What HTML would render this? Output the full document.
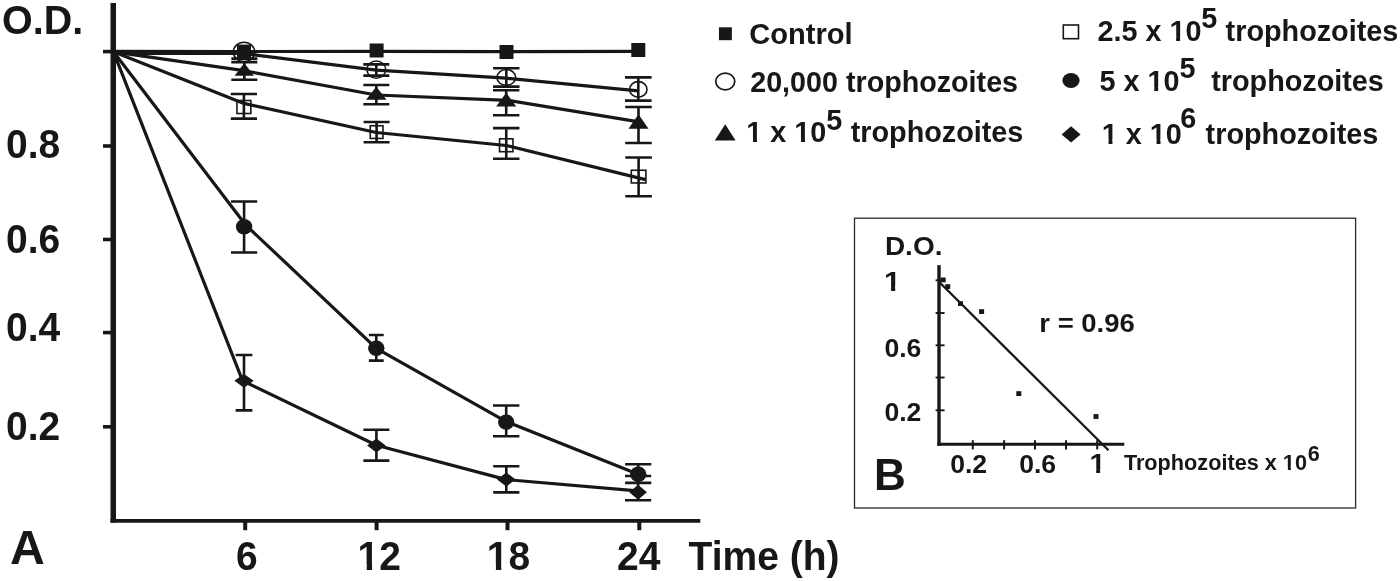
<!DOCTYPE html>
<html lang="en"><head><meta charset="utf-8"><title>Figure</title>
<style>html,body{margin:0;padding:0;background:#fff}svg{display:block}text{font-family:"Liberation Sans", Arial, sans-serif;font-weight:700;fill:#171717}</style></head><body>
<svg width="1400" height="581" viewBox="0 0 1400 581">
<rect width="1400" height="581" fill="#fff"/>
<g stroke="#171717" fill="none" stroke-linecap="butt">
<line x1="113.25" y1="3" x2="113.25" y2="522.6" stroke-width="5.5"/>
<line x1="110.5" y1="520.9" x2="700.3" y2="520.9" stroke-width="3.6"/>
<line x1="103" y1="51.6" x2="111" y2="51.6" stroke-width="3.6"/>
<line x1="103" y1="146" x2="111" y2="146" stroke-width="3.6"/>
<line x1="103" y1="239.5" x2="111" y2="239.5" stroke-width="3.6"/>
<line x1="103" y1="332.6" x2="111" y2="332.6" stroke-width="3.6"/>
<line x1="103" y1="426.8" x2="111" y2="426.8" stroke-width="3.6"/>
<line x1="245.2" y1="520" x2="245.2" y2="530.2" stroke-width="4"/>
<line x1="376.6" y1="520" x2="376.6" y2="530.2" stroke-width="4"/>
<line x1="507.5" y1="520" x2="507.5" y2="530.2" stroke-width="4"/>
<line x1="639.3" y1="520" x2="639.3" y2="530.2" stroke-width="4"/>
</g>
<g stroke="#171717" fill="none" stroke-width="3.2" stroke-linejoin="round">
<polyline points="113.5,51.4 244,51.5 376.5,51.4 506.3,51.6 638.4,51.3"/>
<polyline points="113.5,53.3 244,53.5 376.25,70.2 506.25,78.2 638.5,90.8"/>
<polyline points="113.5,51.8 244,70.7 376.25,95 508,100.4 637.5,121.6"/>
<polyline points="113.5,51.8 244,103.4 376.25,132.5 506.25,145.5 645.5,179.6"/>
<polyline points="113.5,51.8 245.5,224.8 376.3,348.3 506.2,421.6 638.2,474.2"/>
<polyline points="113.5,51.8 242.6,380.8 376.4,445.3 506.3,479.6 637.5,490.8"/>
</g>
<g stroke="#171717" fill="none" stroke-width="2.6">
<path d="M244.4,52V58.6M231.4,52H257.4M231.4,58.6H257.4"/>
<path d="M376.3,64.4V75.6M363.3,64.4H389.3M363.3,75.6H389.3"/>
<path d="M506.3,68.2V86.6M493.1,68.2H519.5M493.1,86.6H519.5"/>
<path d="M638.3,77.4V100.6M625.0,77.4H651.5999999999999M625.0,100.6H651.5999999999999"/>
<path d="M244.3,62.1V79.7M231.3,62.1H257.3M231.3,79.7H257.3"/>
<path d="M376.3,85V104.3M363.3,85H389.3M363.3,104.3H389.3"/>
<path d="M506.2,90.2V115.3M493.0,90.2H519.4M493.0,115.3H519.4"/>
<path d="M638.5,107V143M625.2,107H651.8M625.2,143H651.8"/>
<path d="M243.9,94V118.6M230.8,94H257.0M230.8,118.6H257.0"/>
<path d="M376.6,122V142.3M363.6,122H389.6M363.6,142.3H389.6"/>
<path d="M506.25,128.1V158.75M493.05,128.1H519.45M493.05,158.75H519.45"/>
<path d="M638.6,157.5V196.25M625.3000000000001,157.5H651.9M625.3000000000001,196.25H651.9"/>
<path d="M244.1,201.5V252.5M231.0,201.5H257.2M231.0,252.5H257.2"/>
<path d="M376.3,335V360.6M368.90000000000003,335H383.7M368.90000000000003,360.6H383.7"/>
<path d="M506.2,405.5V436.2M493.0,405.5H519.4M493.0,436.2H519.4"/>
<path d="M638.2,464.3V482.9M625.1,464.3H651.3000000000001M625.1,482.9H651.3000000000001"/>
<path d="M244,355V410.4M235.6,355H252.4M235.6,410.4H252.4"/>
<path d="M376.4,429.7V460.6M363.4,429.7H389.4M363.4,460.6H389.4"/>
<path d="M506.3,466.3V492.4M493.2,466.3H519.4M493.2,492.4H519.4"/>
<path d="M638.1,476V500.2M625.0,476H651.2M625.0,500.2H651.2"/>
</g>
<rect x="237.0" y="44.6" width="14" height="14" fill="#171717"/>
<rect x="369.6" y="43.5" width="14" height="14" fill="#171717"/>
<rect x="499.5" y="45.0" width="14" height="14" fill="#171717"/>
<rect x="631.3" y="43.0" width="14" height="14" fill="#171717"/>
<ellipse cx="244" cy="52" rx="10.7" ry="9.8" fill="none" stroke="#171717" stroke-width="1.6"/>
<ellipse cx="376.3" cy="69.6" rx="9.35" ry="8.65" fill="none" stroke="#171717" stroke-width="1.6"/>
<ellipse cx="506.3" cy="77.4" rx="9.35" ry="7.9" fill="none" stroke="#171717" stroke-width="1.6"/>
<ellipse cx="638.3" cy="89.4" rx="8.7" ry="7.8" fill="none" stroke="#171717" stroke-width="1.6"/>
<polygon points="244.3,63.114999999999995 254.0,75.815 234.60000000000002,75.815" fill="#171717"/>
<polygon points="376.3,86.85 386.55,99.85 366.05,99.85" fill="#171717"/>
<polygon points="506.2,92.81 516.2,106.61000000000001 496.2,106.61000000000001" fill="#171717"/>
<polygon points="638.5,114.17 648.5,128.77 628.5,128.77" fill="#171717"/>
<rect x="236.95000000000002" y="100.5" width="13.9" height="13" fill="none" stroke="#171717" stroke-width="1.6"/>
<rect x="370.25" y="125.75" width="12.7" height="12.7" fill="none" stroke="#171717" stroke-width="1.6"/>
<rect x="499.55" y="138.8" width="13.4" height="12.9" fill="none" stroke="#171717" stroke-width="1.6"/>
<rect x="631.3000000000001" y="170.25" width="14.6" height="12.7" fill="none" stroke="#171717" stroke-width="1.6"/>
<ellipse cx="244.1" cy="226.7" rx="8.2" ry="7.7" fill="#171717"/>
<ellipse cx="376.3" cy="348.3" rx="8.2" ry="7.7" fill="#171717"/>
<ellipse cx="506.2" cy="422.1" rx="8.2" ry="7.7" fill="#171717"/>
<ellipse cx="638.2" cy="474.2" rx="8.2" ry="7.7" fill="#171717"/>
<polygon points="244,373.90000000000003 253.65,380.8 244,387.7 234.35,380.8" fill="#171717"/>
<polygon points="376.4,438.6 385.7,445.5 376.4,452.4 367.09999999999997,445.5" fill="#171717"/>
<polygon points="506.3,472.4 515.6,479.5 506.3,486.6 497.0,479.5" fill="#171717"/>
<polygon points="638.1,484.7 646.9,492.2 638.1,499.7 629.3000000000001,492.2" fill="#171717"/>
<text class="t" transform="translate(2,34.2) scale(1.012,1.045)" font-size="39">O.D.</text>
<text class="t" transform="translate(6,157.8) scale(1,1.045)" font-size="39">0.8</text>
<text class="t" transform="translate(6,253.1) scale(1,1.045)" font-size="39">0.6</text>
<text class="t" transform="translate(6,341.1) scale(1,1.045)" font-size="39">0.4</text>
<text class="t" transform="translate(6,440.4) scale(1,1.045)" font-size="39">0.2</text>
<text class="t" transform="translate(236,570.2) scale(1,1.045)" font-size="39">6</text>
<text class="t" transform="translate(357.6,570.2) scale(1,1.045)" font-size="39">12</text><g fill="#fff" transform="translate(357.6,570.2) scale(1,1.045)"><rect x="1.06" y="-5.32" width="8.05" height="6.66"/><rect x="14.45" y="-5.32" width="7.55" height="6.66"/></g>
<text class="t" transform="translate(486.8,570.2) scale(1,1.045)" font-size="39">18</text><g fill="#fff" transform="translate(486.8,570.2) scale(1,1.045)"><rect x="1.06" y="-5.32" width="8.05" height="6.66"/><rect x="14.45" y="-5.32" width="7.55" height="6.66"/></g>
<text class="t" transform="translate(617,570.2) scale(1,1.045)" font-size="39">24</text>
<text class="t" transform="translate(688.6,570.3) scale(1,1.045)" font-size="39">Time (h)</text>
<text class="t" transform="translate(10.1,564.1) scale(1,1.0)" font-size="48.2">A</text>
<rect x="718.9499999999999" y="27.3" width="12.9" height="12.9" fill="#171717"/>
<text class="t" transform="translate(749.2,44.2) scale(1,1.045)" font-size="29.1">Control</text>
<ellipse cx="725.25" cy="81.5" rx="9.5" ry="8.3" fill="none" stroke="#171717" stroke-width="1.7"/>
<text class="t" transform="translate(750.2,91.5) scale(1,1.045)" font-size="28.7">20,000 trophozoites</text>
<polygon points="725.2,124.2 735.6,140.6 714.8,140.6" fill="#171717"/>
<text class="t" transform="translate(746.3,142) scale(1,1.045)" font-size="28.8">1 x 10</text><g fill="#fff" transform="translate(746.3,142) scale(1,1.045)"><rect x="0.41" y="-4.28" width="6.31" height="5.62"/><rect x="10.67" y="-4.28" width="5.94" height="5.62"/><rect x="48.42" y="-4.28" width="6.31" height="5.62"/><rect x="58.68" y="-4.28" width="5.94" height="5.62"/></g>
<text class="t" transform="translate(826.2,129.5) scale(1,1.045)" font-size="28.8">5</text>
<text class="t" transform="translate(850.7,142) scale(1,1.045)" font-size="28.8">trophozoites</text>
<rect x="1063.3" y="25" width="15.2" height="13.7" fill="none" stroke="#171717" stroke-width="1.6"/>
<text class="t" transform="translate(1097.4,40.8) scale(1,1.045)" font-size="28.8">2.5 x 10</text><g fill="#fff" transform="translate(1097.4,40.8) scale(1,1.045)"><rect x="72.42" y="-4.28" width="6.31" height="5.62"/><rect x="82.68" y="-4.28" width="5.94" height="5.62"/></g>
<text class="t" transform="translate(1201.3,27.5) scale(1,1.045)" font-size="28.8">5</text>
<text class="t" transform="translate(1225.6,40.8) scale(1,1.045)" font-size="28.8">trophozoites</text>
<ellipse cx="1071" cy="80.5" rx="8.6" ry="7.6" fill="#171717"/>
<text class="t" transform="translate(1099.5,91.2) scale(1,1.045)" font-size="28.8">5 x 10</text><g fill="#fff" transform="translate(1099.5,91.2) scale(1,1.045)"><rect x="48.42" y="-4.28" width="6.31" height="5.62"/><rect x="58.68" y="-4.28" width="5.94" height="5.62"/></g>
<text class="t" transform="translate(1179.6,77.6) scale(1,1.045)" font-size="28.8">5</text>
<text class="t" transform="translate(1211.2,91.2) scale(1,1.045)" font-size="28.8">trophozoites</text>
<polygon points="1071.1,126.2 1080.6,134.4 1071.1,142.6 1061.6,134.4" fill="#171717"/>
<text class="t" transform="translate(1101.8,143.7) scale(1,1.045)" font-size="28.8">1 x 10</text><g fill="#fff" transform="translate(1101.8,143.7) scale(1,1.045)"><rect x="0.41" y="-4.28" width="6.31" height="5.62"/><rect x="10.67" y="-4.28" width="5.94" height="5.62"/><rect x="48.42" y="-4.28" width="6.31" height="5.62"/><rect x="58.68" y="-4.28" width="5.94" height="5.62"/></g>
<text class="t" transform="translate(1180.2,128) scale(1,1.045)" font-size="28.8">6</text>
<text class="t" transform="translate(1205.6,143.7) scale(1,1.045)" font-size="28.8">trophozoites</text>
<rect x="854.5" y="218.2" width="501.1" height="289.8" fill="none" stroke="#2a2a2a" stroke-width="1.3"/>
<g stroke="#171717" fill="none">
<line x1="939" y1="265.2" x2="939" y2="445.8" stroke-width="3.4"/>
<line x1="937.3" y1="444.3" x2="1124.3" y2="444.3" stroke-width="3.1"/>
<line x1="935.6" y1="280.3" x2="944.6" y2="280.3" stroke-width="1.9"/>
<line x1="935.6" y1="313" x2="944.6" y2="313" stroke-width="1.9"/>
<line x1="935.6" y1="345.3" x2="944.6" y2="345.3" stroke-width="1.9"/>
<line x1="935.6" y1="377.5" x2="944.6" y2="377.5" stroke-width="1.9"/>
<line x1="935.6" y1="410.3" x2="944.6" y2="410.3" stroke-width="1.9"/>
<line x1="972.8" y1="440.2" x2="972.8" y2="449.4" stroke-width="2"/>
<line x1="1004.1" y1="440.2" x2="1004.1" y2="449.4" stroke-width="2"/>
<line x1="1035" y1="440.2" x2="1035" y2="449.4" stroke-width="2"/>
<line x1="1066" y1="440.2" x2="1066" y2="449.4" stroke-width="2"/>
<line x1="1097.2" y1="440.2" x2="1097.2" y2="449.4" stroke-width="2"/>
<line x1="939" y1="281.7" x2="1108.5" y2="450.3" stroke-width="2.3"/>
</g>
<rect x="940.7" y="277.5" width="5" height="4.8" fill="#171717"/>
<rect x="945.2" y="284.20000000000005" width="5" height="4.8" fill="#171717"/>
<rect x="958.0" y="301.20000000000005" width="5" height="4.8" fill="#171717"/>
<rect x="979.1" y="309.20000000000005" width="5" height="4.8" fill="#171717"/>
<rect x="1016.3" y="391.20000000000005" width="5" height="4.8" fill="#171717"/>
<rect x="1093.5" y="414.1" width="5" height="4.8" fill="#171717"/>
<text class="t" transform="translate(884.9,254.5) scale(1,0.95)" font-size="28">D.O.</text>
<text class="t" transform="translate(884.0,290.5) scale(1.08,1.02)" font-size="28">1</text><g fill="#fff" transform="translate(884.0,290.5) scale(1.08,1.02)"><rect x="0.36" y="-4.23" width="6.17" height="5.60"/><rect x="10.38" y="-4.23" width="5.82" height="5.60"/></g>
<text class="t" transform="translate(884.4,356.8) scale(1,0.97)" font-size="26.6">0.6</text>
<text class="t" transform="translate(884.4,420.6) scale(1,0.97)" font-size="26.6">0.2</text>
<text class="t" transform="translate(950.2,472.8) scale(1,0.97)" font-size="26.6">0.2</text>
<text class="t" transform="translate(1019.2,472.8) scale(1,0.97)" font-size="26.6">0.6</text>
<text class="t" transform="translate(1089.4,473.2) scale(1.05,1.0)" font-size="27.6">1</text><g fill="#fff" transform="translate(1089.4,473.2) scale(1.05,1.0)"><rect x="0.34" y="-4.22" width="6.10" height="5.62"/><rect x="10.23" y="-4.22" width="5.75" height="5.62"/></g>
<text class="t" transform="translate(1039.3,332) scale(1,0.955)" font-size="27.5">r = 0.96</text>
<text class="t" transform="translate(874,489.9) scale(1,1.0)" font-size="44">B</text>
<text class="t" transform="translate(1123.9,470.2) scale(1,0.99)" font-size="21.68">Trophozoites x 10</text><g fill="#fff" transform="translate(1123.9,470.2) scale(1,0.99)"><rect x="158.88" y="-3.63" width="5.09" height="5.04"/><rect x="166.95" y="-3.63" width="4.82" height="5.04"/></g>
<text class="t" transform="translate(1307.8,460.7) scale(1,1.0)" font-size="21.6">6</text>
</svg></body></html>
